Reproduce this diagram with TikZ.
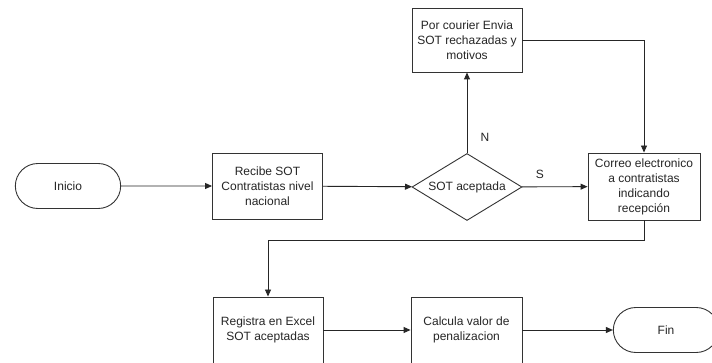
\documentclass[tikz,border=0pt]{standalone}
\usepackage{fontspec}
\setmainfont{Liberation Sans}
\usetikzlibrary{arrows.meta,shapes.geometric,shapes.misc}
\begin{document}
\begin{tikzpicture}[x=1pt,y=-1pt,
  every node/.style={font=\fontsize{12}{15}\selectfont, text=black!85},
  proc/.style={draw=black!80, line width=0.9pt, minimum width=110pt,
    minimum height=66pt, align=center, inner sep=1pt},
  term/.style={draw=black!80, line width=0.9pt, rounded rectangle,
    minimum width=112pt, minimum height=45pt},
  decide/.style={draw=black!80, line width=0.9pt, diamond, aspect=1.64,
    minimum width=110pt, minimum height=67pt, inner sep=0pt},
  flow/.style={draw=black!85, line width=0.9pt,
    -{Triangle[length=7pt,width=6pt]}}]
  \useasboundingbox (0,0) rectangle (712,363);
  \clip (0,0) rectangle (712,363);
  \fill[white] (0,0) rectangle (712,363);

  % top row
  \node[term]   (inicio)  at (68,186)    {Inicio};
  \node[proc]   (recibe)  at (267.5,186) {Recibe SOT\\Contratistas nivel\\nacional};
  \node[decide] (sot)     at (467,187)   {SOT aceptada};
  \node[proc, minimum width=112pt, minimum height=67pt]
                (correo)  at (644,186.5) {Correo electronico\\a contratistas\\indicando\\recepción};
  \node[proc, minimum height=64pt]
                (courier) at (467,40)    {Por courier Envia\\SOT rechazadas y\\motivos};

  % bottom row
  \node[proc]   (registra) at (268,330)   {Registra en Excel\\SOT aceptadas};
  \node[proc, minimum width=111pt]
                (calcula)  at (466.5,330) {Calcula valor de\\penalizacion};
  \node[term]   (fin)      at (666,330)   {Fin};

  % connectors
  \draw[flow] (inicio) -- (recibe);
  \draw[flow] (recibe) -- (sot);
  \draw[flow] (sot) -- node[pos=0.27, yshift=12pt] {S} (correo);
  \draw[flow] (sot.north) -- node[pos=0.19, xshift=18pt] {N} (courier.south);
  \draw[flow] (courier.east) -| (correo.north);
  \coordinate (turn) at (644,240);
  \draw[flow] (correo.south) -- (turn) -| (registra.north);
  \draw[flow] (registra) -- (calcula);
  \draw[flow] (calcula) -- (fin);
\end{tikzpicture}
\end{document}
